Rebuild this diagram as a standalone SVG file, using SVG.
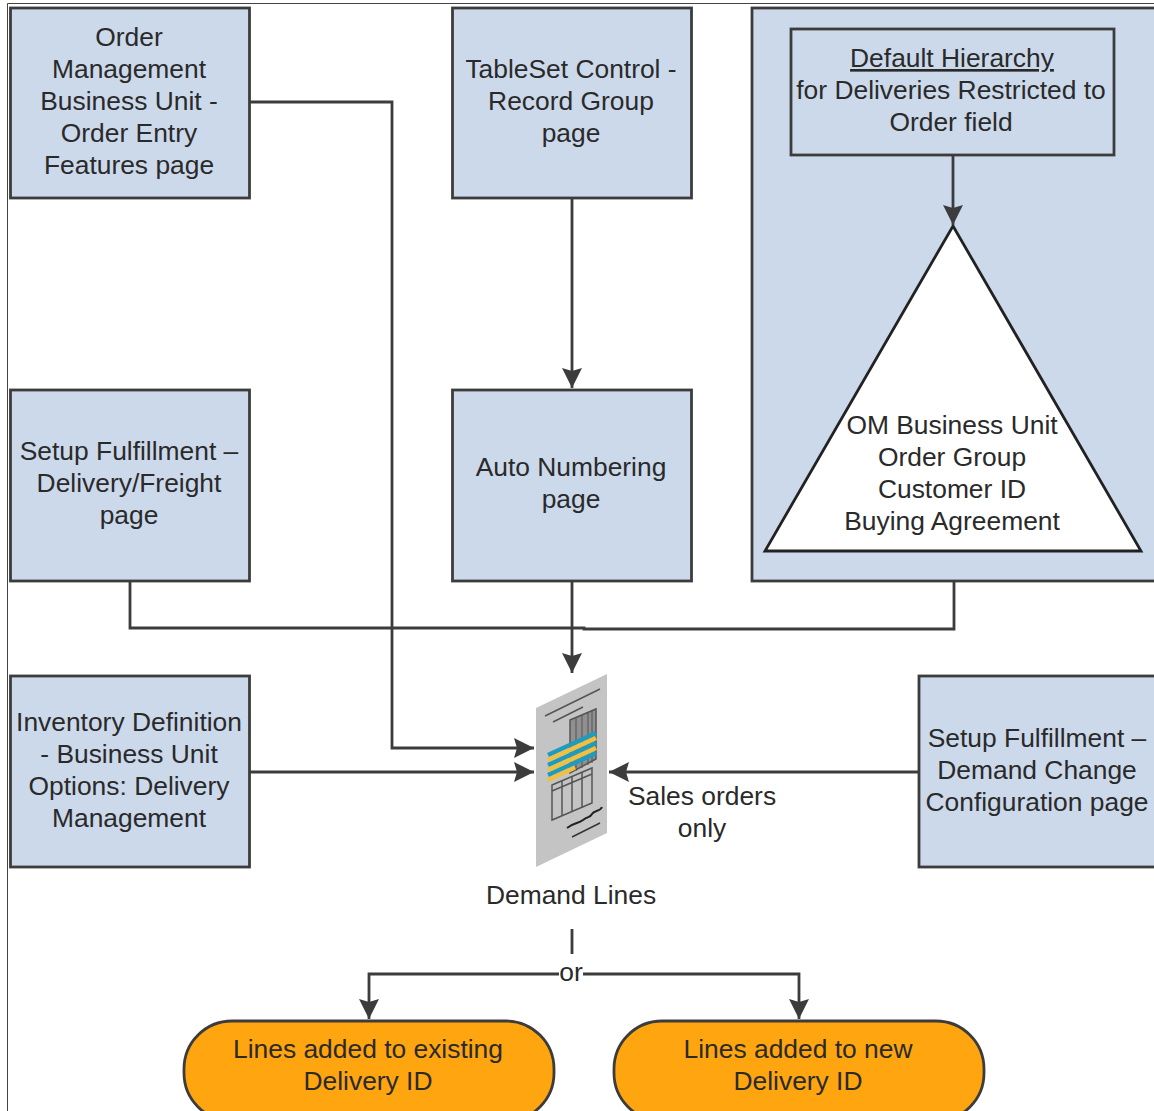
<svg xmlns="http://www.w3.org/2000/svg" width="1154" height="1111" viewBox="0 0 1154 1111">
<style>
.b{fill:#ccd9eb;stroke:#3c3c3c;stroke-width:2.8}
.t{font-family:"Liberation Sans",Arial,sans-serif;font-size:26.4px;fill:#2a2a2a;text-anchor:middle}
.c{fill:none;stroke:#3c3c3c;stroke-width:2.8}
.o{fill:#ffa50f;stroke:#3c3c3c;stroke-width:2.8}
.a{fill:#3c3c3c;stroke:none}
</style>
<defs>
<marker id="ah" markerUnits="userSpaceOnUse" markerWidth="22" markerHeight="22" refX="20" refY="10" orient="auto"><path class="a" d="M0 0L20 10L0 20L3 10Z"/></marker>
</defs>
<rect x="0" y="0" width="1154" height="1111" fill="#fff"/>
<path d="M7.500 1111V3.500H1154" fill="none" stroke="#444" stroke-width="1"/>
<g id="order-mgmt"><rect class="b" x="10.500" y="8" width="239" height="190"/>
<text class="t"><tspan x="129" y="46">Order</tspan><tspan x="129" y="78">Management</tspan><tspan x="129" y="110">Business Unit -</tspan><tspan x="129" y="142">Order Entry</tspan><tspan x="129" y="174">Features page</tspan></text></g>
<g id="tableset"><rect class="b" x="452.500" y="8" width="239" height="190"/>
<text class="t"><tspan x="571" y="78">TableSet Control -</tspan><tspan x="571" y="110">Record Group</tspan><tspan x="571" y="142">page</tspan></text></g>
<g id="hierarchy-panel"><rect class="b" x="752" y="8" width="410" height="573"/></g>
<g id="default-hierarchy"><rect class="b" x="791" y="29" width="323" height="126"/>
<text class="t"><tspan x="952" y="67" text-decoration="underline">Default Hierarchy</tspan><tspan x="951" y="99">for Deliveries Restricted to</tspan><tspan x="951" y="131">Order field</tspan></text></g>
<g id="triangle"><path d="M953 226L1141 551H765Z" fill="#fff" stroke="#222" stroke-width="2.800"/>
<text class="t"><tspan x="952" y="434">OM Business Unit</tspan><tspan x="952" y="466">Order Group</tspan><tspan x="952" y="498">Customer ID</tspan><tspan x="952" y="530">Buying Agreement</tspan></text></g>
<g id="setup-delivery"><rect class="b" x="10.500" y="390" width="239" height="191"/>
<text class="t"><tspan x="129" y="460">Setup Fulfillment –</tspan><tspan x="129" y="492">Delivery/Freight</tspan><tspan x="129" y="524">page</tspan></text></g>
<g id="auto-numbering"><rect class="b" x="452.500" y="390" width="239" height="191"/>
<text class="t"><tspan x="571" y="476">Auto Numbering</tspan><tspan x="571" y="508">page</tspan></text></g>
<g id="inventory"><rect class="b" x="10.500" y="676" width="239" height="191"/>
<text class="t"><tspan x="129" y="731">Inventory Definition</tspan><tspan x="129" y="763">- Business Unit</tspan><tspan x="129" y="795">Options: Delivery</tspan><tspan x="129" y="827">Management</tspan></text></g>
<g id="setup-demand"><rect class="b" x="919" y="676" width="243" height="191"/>
<text class="t"><tspan x="1037" y="747">Setup Fulfillment –</tspan><tspan x="1037" y="779">Demand Change</tspan><tspan x="1037" y="811">Configuration page</tspan></text></g>
<g id="sales-label"><text class="t"><tspan x="702" y="805">Sales orders</tspan><tspan x="702" y="837">only</tspan></text></g>
<g id="demand-lines">
<path d="M536 708L607 674V833L536 867Z" fill="#c4c4c4"/>
<g fill="none" stroke="#555" stroke-width="1.500">
<path d="M545 716L600 689M553 722L583 707"/>
<path d="M570 720L596 709V759L570 773Z" fill="#909090"/>
<path d="M576 718V771M582 715V768M588 712V765M592 710V763" stroke-width="1"/>
<path d="M552 785L592 768V803L552 820Z"/>
<path d="M552 791L592 774M562 781V816M572 776V812M582 772V808"/>
<path d="M572 837L600 823" stroke="#333"/>
<path d="M567 828C575 822 578 824 583 820S590 818 592 814S600 812 602 807" stroke="#222" stroke-width="2"/>
</g>
<g fill="none" stroke-width="4.400">
<path d="M548 755L596 733M548 765L596 743M548 775L596 753" stroke="#1e9cc0"/>
<path d="M548 760L596 738M548 770L596 748M548 780L575 767.500" stroke="#f0c040"/>
</g>
</g>
<g id="demand-label"><text class="t" x="571" y="904">Demand Lines</text></g>
<g id="or-label"><text class="t" x="571" y="981">or</text></g>
<g id="existing"><rect class="o" x="184" y="1021" width="370" height="100" rx="48"/>
<text class="t"><tspan x="368" y="1058">Lines added to existing</tspan><tspan x="368" y="1090">Delivery ID</tspan></text></g>
<g id="new"><rect class="o" x="614" y="1021" width="370" height="100" rx="48"/>
<text class="t"><tspan x="798" y="1058">Lines added to new</tspan><tspan x="798" y="1090">Delivery ID</tspan></text></g>
<g id="connectors">
<path class="c" d="M249 102H392V748H534" marker-end="url(#ah)"/>
<path class="c" d="M572 198V388" marker-end="url(#ah)"/>
<path class="c" d="M953 155V225" marker-end="url(#ah)"/>
<path class="c" d="M130 581V628H584V629H954V581"/>
<path class="c" d="M572 581V673" marker-end="url(#ah)"/>
<path class="c" d="M249 772H534" marker-end="url(#ah)"/>
<path class="c" d="M918 772H609" marker-end="url(#ah)"/>
<path class="c" d="M572 929V954"/>
<path class="c" d="M559 974H369V1019" marker-end="url(#ah)"/>
<path class="c" d="M583 974H799V1019" marker-end="url(#ah)"/>
</g>
</svg>
